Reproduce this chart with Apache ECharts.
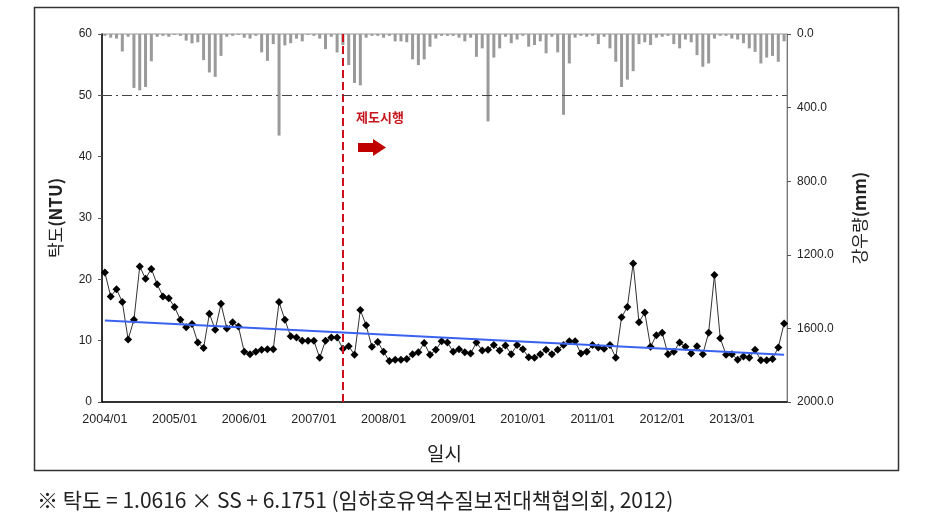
<!DOCTYPE html>
<html><head><meta charset="utf-8">
<script src="https://cdn.jsdelivr.net/npm/echarts@6/dist/echarts.min.js"></script>
<style>html,body{margin:0;padding:0;background:#fff}#c{width:940px;height:528px}</style>
</head><body><div id="c"></div>
<script>
// Months 2004/01 .. 2013/10
const startYear = 2004, monthCount = 118;
const months = [];
for (let i = 0; i < monthCount; i++) {
  const y = startYear + Math.floor(i / 12), m = (i % 12) + 1;
  months.push(y + '/' + (m < 10 ? '0' + m : m));
}
// Turbidity (NTU)
const turbidity = [
  21.1,17.2,18.4,16.3,10.2,13.4,22.1,20.1,21.7,19.2,
  17.2,16.9,15.5,13.4,12.2,12.7,9.7,8.8,14.4,11.8,
  16.0,12.0,13.0,12.3,8.2,7.8,8.2,8.5,8.6,8.6,
  16.3,13.4,10.7,10.5,10.0,10.0,10.0,7.2,10.0,10.5,
  10.5,8.7,9.1,7.7,15.0,12.5,9.0,9.8,8.2,6.7,
  6.9,6.9,7.0,7.8,8.1,9.6,7.7,8.5,9.9,9.7,
  8.2,8.6,8.1,7.9,9.7,8.4,8.5,9.3,8.4,9.2,
  7.8,9.3,8.6,7.3,7.2,7.8,8.5,7.8,8.5,9.3,
  9.9,9.9,7.9,8.2,9.3,8.9,8.7,9.3,7.2,13.8,
  15.5,22.6,13.0,14.6,9.0,10.9,11.3,7.8,8.2,9.7,
  9.0,7.9,9.1,7.8,11.3,20.7,10.4,7.7,7.8,6.9,
  7.4,7.2,8.5,6.8,6.8,7.0,8.9,12.8
];
// Rainfall (mm)
const rainfall = [
  10,20,25,95,15,293,306,288,148,15,
  10,15,5,10,36,51,45,142,209,233,
  119,15,10,5,20,25,10,100,146,55,
  552,62,50,25,40,5,10,25,82,15,
  100,60,169,266,279,20,10,10,20,10,
  40,40,45,138,169,138,69,25,10,10,
  10,20,40,20,124,78,475,128,78,15,
  50,30,10,69,60,40,105,15,100,439,
  160,20,10,15,10,55,15,78,151,288,
  248,202,55,45,60,20,15,10,55,78,
  30,45,115,178,160,25,10,10,25,30,
  50,78,97,160,128,119,151,40
];
// Trend line endpoints (NTU) and reference values
const trendStart = 13.3, trendEnd = 7.7;
const thresholdNTU = 50;
const policyMonth = '2007/06';
const leftTicks = [0, 60, 10];      // min, max, interval
const rightTicks = [0, 2000, 400];

const chart = echarts.init(document.getElementById('c'));
const font = '"Liberation Sans", Arial, sans-serif';
chart.setOption({
  backgroundColor: '#fff',
  animation: false,
  grid: { left: 102, right: 153, top: 34, bottom: 126, show: true, borderColor: '#999', borderWidth: 1 },
  xAxis: {
    type: 'category', data: months, boundaryGap: true,
    name: '일시', nameLocation: 'middle', nameGap: 42,
    nameTextStyle: { fontFamily: '"Noto Sans CJK KR"', fontSize: 19, color: '#222' },
    axisLine: { lineStyle: { color: '#000', width: 1.5 } },
    axisTick: { interval: 11, inside: true, length: 4, lineStyle: { color: '#666' } },
    axisLabel: { interval: 11, color: '#222', fontFamily: font, fontSize: 12.5, margin: 11 },
    splitLine: { show: false }
  },
  yAxis: [
    {
      type: 'value', min: leftTicks[0], max: leftTicks[1], interval: leftTicks[2],
      name: '{a|탁도}{b|(NTU)}', nameLocation: 'middle', nameGap: 38, nameRotate: 90,
      nameTextStyle: { rich: {
        a: { fontFamily: '"Noto Sans CJK KR"', fontSize: 17, color: '#222' },
        b: { fontFamily: '"Noto Sans CJK KR"', fontSize: 17, fontWeight: 'bold', color: '#222' }
      } },
      axisLine: { show: true, lineStyle: { color: '#000', width: 1.5 } },
      axisTick: { show: true, length: 4, lineStyle: { color: '#555' } },
      axisLabel: { color: '#222', fontFamily: font, fontSize: 12, margin: 10 },
      splitLine: { show: false }
    },
    {
      type: 'value', min: rightTicks[0], max: rightTicks[1], interval: rightTicks[2], inverse: true,
      position: 'right',
      name: '{a|강우량}{b|(mm)}', nameLocation: 'middle', nameGap: 64, nameRotate: 90,
      nameTextStyle: { rich: {
        a: { fontFamily: '"Noto Sans CJK KR"', fontSize: 17, color: '#222' },
        b: { fontFamily: '"Noto Sans CJK KR"', fontSize: 17, fontWeight: 'bold', color: '#222' }
      } },
      axisLine: { show: true, lineStyle: { color: '#777', width: 1 } },
      axisTick: { show: true, length: 4, lineStyle: { color: '#555' } },
      axisLabel: { color: '#222', fontFamily: font, fontSize: 12, margin: 10, formatter: v => v.toFixed(1) },
      splitLine: { show: false }
    }
  ],
  series: [
    {
      type: 'bar', yAxisIndex: 1, data: rainfall, barWidth: 3,
      itemStyle: { color: '#9a9a9a' }, z: 1,
      markLine: {
        silent: true, symbol: ['none', 'none'], label: { show: false },
        lineStyle: { color: '#d0101c', type: [8, 4], width: 2 },
        data: [{ xAxis: policyMonth }]
      }
    },
    {
      type: 'line', yAxisIndex: 0, data: turbidity,
      symbol: 'diamond', symbolSize: 8, showSymbol: true, showAllSymbol: true,
      itemStyle: { color: '#000' },
      lineStyle: { color: '#333', width: 1 }, z: 3,
      markLine: {
        silent: true, symbol: ['none', 'none'], label: { show: false },
        data: [
          { yAxis: thresholdNTU, lineStyle: { color: '#444', type: [10, 4, 2, 4], width: 1 } },
          [ { coord: [0, trendStart] }, { coord: [monthCount - 1, trendEnd] } ]
        ],
        lineStyle: { color: '#3a62f0', type: 'solid', width: 2 }
      }
    }
  ],
  graphic: [
    { type: 'rect', shape: { x: 34.5, y: 7.5, width: 864, height: 463 }, style: { fill: 'none', stroke: '#333', lineWidth: 1.5 }, silent: true },
    { type: 'text', left: 356, top: 111, style: { text: '제도시행', fill: '#c4161c', font: 'bold 13px "Noto Sans CJK KR"' } },
    { type: 'polygon', shape: { points: [[358, 143], [373, 143], [373, 139], [386, 147.5], [373, 156], [373, 152], [358, 152]] }, style: { fill: '#c00000' } },
    { type: 'text', left: 37, top: 490, style: { text: '※ 탁도 = 1.0616 × SS + 6.1751 (임하호유역수질보전대책협의회, 2012)', fill: '#222', font: '21px "Noto Sans CJK KR"' } }
  ]
});
</script></body></html>
